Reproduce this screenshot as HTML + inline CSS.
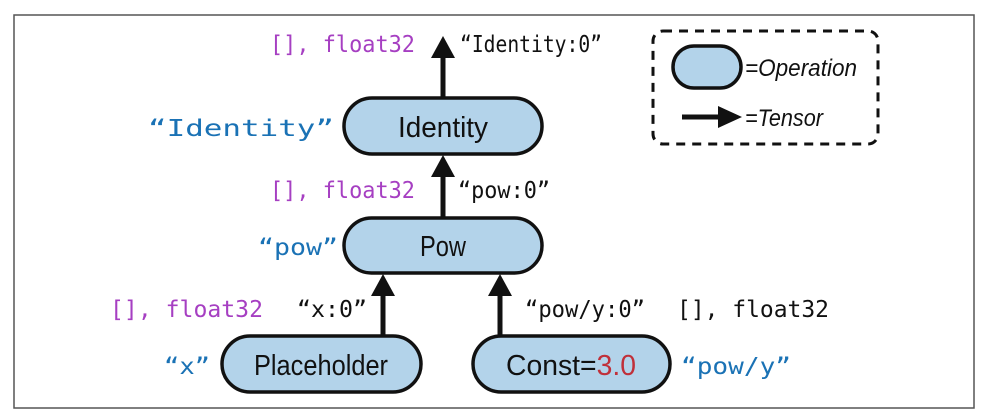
<!DOCTYPE html>
<html><head><meta charset="utf-8"><style>
html,body{margin:0;padding:0;background:#fff}
svg{display:block}
.m{font-family:"DejaVu Sans Mono","Liberation Mono",monospace;font-size:23px}
.s{font-family:"Liberation Sans","DejaVu Sans",sans-serif;font-size:29px;fill:#111}
.i{font-family:"Liberation Sans","DejaVu Sans",sans-serif;font-size:24px;font-style:italic;fill:#111}
</style></head><body>
<svg width="986" height="416" viewBox="0 0 986 416" xmlns="http://www.w3.org/2000/svg">
<rect x="14" y="15" width="960" height="393" fill="#fff" stroke="#555" stroke-width="1.5"/>
<g fill="#b3d3ea" stroke="#111" stroke-width="3.5">
<rect x="344" y="98" width="198" height="56" rx="28"/>
<rect x="344" y="218" width="198" height="55" rx="27.5"/>
<rect x="222" y="336" width="199" height="56" rx="28"/>
<rect x="473" y="336" width="197" height="56" rx="28"/>
<rect x="673" y="46" width="68" height="42" rx="21"/>
</g>
<g stroke="#111" stroke-width="5">
<line x1="443" y1="98" x2="443" y2="55"/>
<line x1="443" y1="218" x2="443" y2="172"/>
<line x1="383" y1="336" x2="383" y2="292"/>
<line x1="500" y1="336" x2="500" y2="292"/>
<line x1="682" y1="117" x2="722" y2="117"/>
</g>
<g fill="#111">
<polygon points="443,36 431,58 455,58"/>
<polygon points="443,155 431,177 455,177"/>
<polygon points="383,274 371,296 395,296"/>
<polygon points="500,274 488,296 512,296"/>
<polygon points="742,117 718,106 718,128"/>
</g>
<rect x="653" y="31" width="225" height="113" rx="10" fill="none" stroke="#111" stroke-width="3" stroke-dasharray="9,7"/>
<text class="i" x="745" y="76" textLength="112" lengthAdjust="spacingAndGlyphs">=Operation</text>
<text class="i" x="745" y="126" textLength="78" lengthAdjust="spacingAndGlyphs">=Tensor</text>
<g text-anchor="middle">
<text class="s" x="443" y="137" textLength="90" lengthAdjust="spacingAndGlyphs">Identity</text>
<text class="s" x="443" y="256" textLength="46" lengthAdjust="spacingAndGlyphs">Pow</text>
<text class="s" x="321" y="375" textLength="134" lengthAdjust="spacingAndGlyphs">Placeholder</text>
<text class="s" x="571" y="375" textLength="130" lengthAdjust="spacingAndGlyphs">Const=<tspan fill="#c0303a">3.0</tspan></text>
</g>
<text class="m" x="270" y="52" fill="#a63fc2" textLength="145" lengthAdjust="spacingAndGlyphs">[], float32</text>
<text class="m" x="460" y="52" fill="#111" textLength="142" lengthAdjust="spacingAndGlyphs">“Identity:0”</text>
<text class="m" x="148" y="136" fill="#1a72b5" textLength="186" lengthAdjust="spacingAndGlyphs">“Identity”</text>
<text class="m" x="270" y="198" fill="#a63fc2" textLength="145" lengthAdjust="spacingAndGlyphs">[], float32</text>
<text class="m" x="458" y="198" fill="#111" textLength="92" lengthAdjust="spacingAndGlyphs">“pow:0”</text>
<text class="m" x="258" y="255" fill="#1a72b5" textLength="80" lengthAdjust="spacingAndGlyphs">“pow”</text>
<text class="m" x="110" y="317" fill="#a63fc2" textLength="153" lengthAdjust="spacingAndGlyphs">[], float32</text>
<text class="m" x="297" y="317" fill="#111" textLength="70" lengthAdjust="spacingAndGlyphs">“x:0”</text>
<text class="m" x="525" y="317" fill="#111" textLength="120" lengthAdjust="spacingAndGlyphs">“pow/y:0”</text>
<text class="m" x="677" y="317" fill="#111" textLength="152" lengthAdjust="spacingAndGlyphs">[], float32</text>
<text class="m" x="164" y="374" fill="#1a72b5" textLength="46" lengthAdjust="spacingAndGlyphs">“x”</text>
<text class="m" x="681" y="374" fill="#1a72b5" textLength="110" lengthAdjust="spacingAndGlyphs">“pow/y”</text>
</svg>
</body></html>
